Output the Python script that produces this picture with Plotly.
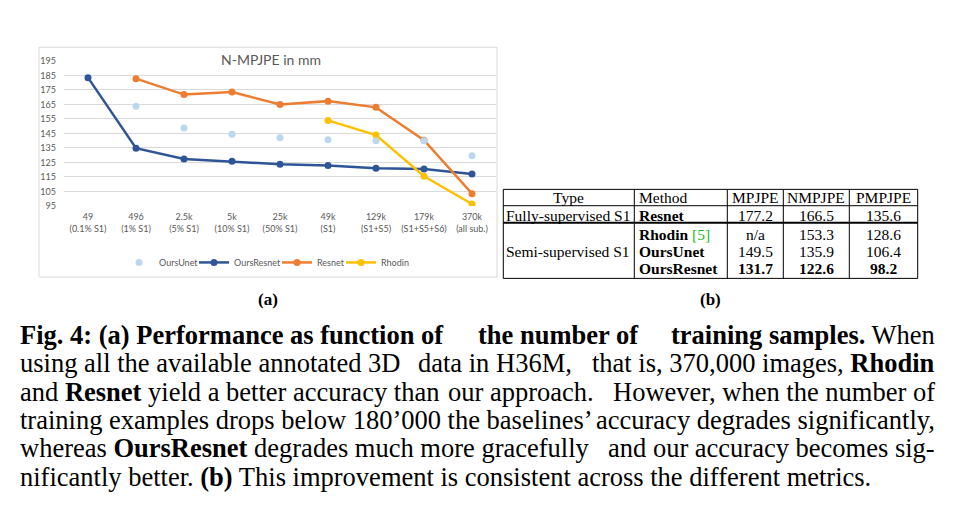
import plotly.graph_objects as go

W, H = 965, 510
OFF = 8  # page body margin of the browser

# ---------------- data ----------------
counts = ["49", "496", "2.5k", "5k", "25k", "49k", "129k", "179k", "370k"]
subsets = ["(0.1% S1)", "(1% S1)", "(5% S1)", "(10% S1)", "(50% S1)", "(S1)",
           "(S1+S5)", "(S1+S5+S6)", "(all sub.)"]
categories = [f"{c}<br>{s}" for c, s in zip(counts, subsets)]

ours_unet = [None, 163.7, 148.8, 144.5, 142.0, 140.7, 140.0, 140.0, 129.7]
ours_resnet = [183.5, 134.9, 127.4, 125.8, 123.8, 122.9, 121.0, 120.5, 117.0]
resnet = [None, 182.8, 171.8, 173.6, 165.0, 167.3, 163.0, 140.3, 103.5]
rhodin = [None, None, None, None, None, 154.0, 143.9, 115.5, 96.4]

y_ticks = [95, 105, 115, 125, 135, 145, 155, 165, 175, 185, 195]

table_header = ["Type", "Method", "MPJPE", "NMPJPE", "PMPJPE"]
table_types = ["Fully-supervised S1", "Semi-supervised S1"]
table_methods = ["Resnet", "Rhodin", "OursUnet", "OursResnet"]
table_cite = ["", "[5]", "", ""]
table_mpjpe = ["177.2", "n/a", "149.5", "131.7"]
table_nmpjpe = ["166.5", "153.3", "135.9", "122.6"]
table_pmpjpe = ["135.6", "128.6", "106.4", "98.2"]
table_bold_row = [False, False, False, True]

# caption lines: (left part, middle part, right part)
caption_lines = [
    ("<b>Fig. 4: (a) Performance as function of</b>", "<b>the number of</b>",
     "<b>training samples.</b> When"),
    ("using all the available annotated 3D", "data in H36M,",
     "that is, 370,000 images, <b>Rhodin</b>"),
    ("and <b>Resnet</b> yield a better accuracy than", "our approach.",
     "However, when the number of"),
    ("training examples drops below 180’000 the baselines’", "",
     "accuracy degrades significantly,"),
    ("whereas <b>OursResnet</b> degrades much more gracefully", "",
     "and our accuracy becomes sig-"),
    ("nificantly better. <b>(b)</b> This improvement is consistent across the different metrics.", "", ""),
]

# ---------------- helpers ----------------
FW, FH = W - OFF, H - OFF

def px(x):
    return (x - OFF) / FW

def py(y):
    return 1 - (y - OFF) / FH

SERIF = "Liberation Serif"
CHART_FONT = "Lato"
GRAY = "#595959"

C_UNET = "#BDD7EE"
C_ORES = "#2F5597"
C_RES = "#ED7D31"
C_RHO = "#FFC000"

fig = go.Figure()

fig.add_trace(go.Scatter(x=categories, y=ours_resnet, name="OursResnet", mode="lines+markers",
                         line=dict(color=C_ORES, width=2.5), marker=dict(size=7, color=C_ORES),
                         legend="legend2"))
fig.add_trace(go.Scatter(x=categories, y=resnet, name="Resnet", mode="lines+markers",
                         line=dict(color=C_RES, width=2.5), marker=dict(size=7, color=C_RES),
                         legend="legend3"))
fig.add_trace(go.Scatter(x=categories, y=rhodin, name="Rhodin", mode="lines+markers",
                         line=dict(color=C_RHO, width=2.5), marker=dict(size=7, color=C_RHO),
                         legend="legend4"))
fig.add_trace(go.Scatter(x=categories, y=ours_unet, name="OursUnet", mode="markers",
                         marker=dict(size=7, color=C_UNET), legend="legend"))

# plot area
plot_l, plot_r, plot_t, plot_b = 64, 496, 56, 204.3

def leg(text_start):
    return dict(orientation="h", x=px(text_start - 37), y=py(262), xanchor="left",
                yanchor="middle", font=dict(size=9, color=GRAY, family=CHART_FONT),
                bgcolor="rgba(0,0,0,0)", itemwidth=30)

fig.update_layout(
    width=FW, height=FH,
    margin=dict(l=0, r=0, t=0, b=0),
    paper_bgcolor="white", plot_bgcolor="white",
    font=dict(family=CHART_FONT, color=GRAY, size=9),
    xaxis=dict(domain=[px(plot_l), px(plot_r)], type="category", range=[-0.5, 8.5],
               showgrid=False, showline=False, zeroline=False, ticks="", ticklabelstandoff=4,
               tickfont=dict(size=9, color=GRAY, family=CHART_FONT), fixedrange=True),
    yaxis=dict(domain=[py(plot_b), py(plot_t)], range=[95, 195], tickvals=y_ticks,
               showgrid=True, gridcolor="#D9D9D9", gridwidth=1, showline=False, zeroline=False,
               ticks="", ticklabelstandoff=7,
               tickfont=dict(size=9, color=GRAY, family=CHART_FONT), fixedrange=True),
    showlegend=True,
    legend=leg(156), legend2=leg(231), legend3=leg(314), legend4=leg(378),
)

shapes = []
annotations = []

# chart frame
shapes.append(dict(type="rect", xref="paper", yref="paper", x0=px(39), x1=px(497),
                   y0=py(277), y1=py(42), line=dict(color="#D9D9D9", width=1), layer="below"))

# chart title
annotations.append(dict(text="N-MPJPE in mm", x=px(271), y=py(55), xref="paper", yref="paper",
                        showarrow=False, xanchor="center", yanchor="middle",
                        font=dict(size=14, color=GRAY, family=CHART_FONT)))

# ---------------- table ----------------
col_x = [503.3, 634.3, 727.3, 783.3, 849.3, 917.7]
row_y = [195.7, 214.0, 233.3, 251.0, 268.7]
t_top, t_head, t_full, t_bot = 187.3, 204.0, 221.5, 278.3
TFS = 15.5
black = "black"

for xv in col_x:
    shapes.append(dict(type="line", xref="paper", yref="paper", x0=px(xv), x1=px(xv),
                       y0=py(t_top), y1=py(t_bot), line=dict(color=black, width=1)))
for yv, wdt in [(t_top, 1), (t_head, 1), (t_full, 2), (t_bot, 1)]:
    shapes.append(dict(type="line", xref="paper", yref="paper", x0=px(col_x[0]), x1=px(col_x[-1]),
                       y0=py(yv), y1=py(yv), line=dict(color=black, width=wdt)))

def tcell(text, x, y, anchor="center", color=black, size=TFS):
    annotations.append(dict(text=text, x=px(x), y=py(y), xref="paper", yref="paper",
                            showarrow=False, xanchor=anchor, yanchor="middle",
                            font=dict(size=size, color=color, family=SERIF)))

# header
tcell(table_header[0], (col_x[0] + col_x[1]) / 2, row_y[0])
tcell(table_header[1], col_x[1] + 2.5, row_y[0], "left")
for k in range(3):
    tcell(table_header[2 + k], (col_x[2 + k] + col_x[3 + k]) / 2, row_y[0])

# types
tcell(table_types[0], col_x[0] + 1.0, row_y[1], "left")
tcell(table_types[1], col_x[0] + 1.0, row_y[3], "left")

for i in range(4):
    y = row_y[1 + i]
    m = f"<b>{table_methods[i]}</b>"
    if table_cite[i]:
        m += f" <span style='color:#22BB22'>{table_cite[i]}</span>"
    tcell(m, col_x[1] + 2.5, y, "left")
    vals = [table_mpjpe[i], table_nmpjpe[i], table_pmpjpe[i]]
    for k, v in enumerate(vals):
        txt = f"<b>{v}</b>" if table_bold_row[i] else v
        tcell(txt, (col_x[2 + k] + col_x[3 + k]) / 2, y)

# sub-captions
annotations.append(dict(text="<b>(a)</b>", x=px(268), y=py(300), xref="paper", yref="paper",
                        showarrow=False, xanchor="center", yanchor="middle",
                        font=dict(size=17, color=black, family=SERIF)))
annotations.append(dict(text="<b>(b)</b>", x=px(710), y=py(300), xref="paper", yref="paper",
                        showarrow=False, xanchor="center", yanchor="middle",
                        font=dict(size=17, color=black, family=SERIF)))

# caption text
cap_y = [336, 365, 394, 423, 452, 481]
cap_mid_x = [558, 495, 521, None, None, None]
CFS = 26.5
for (left, mid, right), yv, mx in zip(caption_lines, cap_y, cap_mid_x):
    annotations.append(dict(text=left, x=px(18), y=py(yv), xref="paper", yref="paper",
                            showarrow=False, xanchor="left", yanchor="middle",
                            font=dict(size=CFS, color=black, family=SERIF)))
    if mid:
        annotations.append(dict(text=mid, x=px(mx), y=py(yv), xref="paper", yref="paper",
                                showarrow=False, xanchor="center", yanchor="middle",
                                font=dict(size=CFS, color=black, family=SERIF)))
    if right:
        annotations.append(dict(text=right, x=px(937), y=py(yv), xref="paper", yref="paper",
                                showarrow=False, xanchor="right", yanchor="middle",
                                font=dict(size=CFS, color=black, family=SERIF)))

fig.update_layout(shapes=shapes, annotations=annotations)

fig.write_html("out.html")
